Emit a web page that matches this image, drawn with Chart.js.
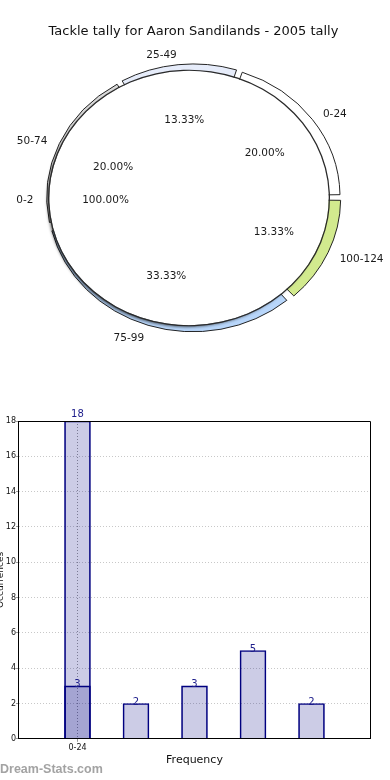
<!DOCTYPE html>
<html lang="en">
<head>
<meta charset="UTF-8">
<meta name="viewport" content="width=device-width, initial-scale=1.0">
<title>Tackle tally for Aaron Sandilands - 2005 tally</title>
<script src="https://cdn.jsdelivr.net/npm/chart.js"></script>
<style>
  body { margin: 0; background: #fff; }
  #page { position: relative; width: 390px; height: 780px; overflow: hidden; }
  .pie { position: absolute; left: 0; top: 0; }
  #barChart { position: absolute; left: -7px; top: 400px; }
  #mark { position: absolute; left: 0; top: 762px; font: bold 12.5px "Liberation Sans", Arial, sans-serif; color: #a3a3a3; }
</style>
</head>
<body>
<div id="page">
  <canvas id="wedgeChart" class="pie" width="390" height="370"></canvas>
  <canvas id="diskChart" class="pie" width="390" height="370"></canvas>
  <canvas id="barChart" width="397" height="380"></canvas>
  <div id="mark">Dream-Stats.com</div>
</div>
<script>
  const chartTitle = 'Tackle tally for Aaron Sandilands - 2005 tally';
  const rangeLabels = ['0-24', '25-49', '50-74', '75-99', '100-124'];
  const rangeCounts = [3, 2, 3, 5, 2];
  const innerLabels = ['0-2'];
  const innerCounts = [1];
  const tallBar = [18];
  const yMax = 18;
  const yStep = 2;
  const slotCount = 6;

  Chart.defaults.font.family = '"DejaVu Sans", sans-serif';

  const ySquash = 0.91;   // the old pie was drawn as a flat ellipse

  // pie goes clockwise from 3 o'clock, the original went the other way
  const wedgeLabels = rangeLabels.slice().reverse();
  const wedgeCounts = rangeCounts.slice().reverse();
  const wedgeColors = ['#ffffff', '#e6ecfa', '#dcdcdc', '#b8d6fa', '#d2ea8e'].reverse();

  const squash = {
    id: 'squash',
    beforeDatasetsDraw(chart) {
      const a = chart.chartArea, cy = (a.top + a.bottom) / 2;
      chart.ctx.save();
      chart.ctx.translate(0, cy);
      chart.ctx.scale(1, ySquash);
      chart.ctx.translate(0, -cy);
    },
    afterDatasetsDraw(chart) {
      chart.ctx.restore();
    }
  };

  const diskShadow = {
    id: 'diskShadow',
    beforeDatasetDraw(chart, args) {
      if (args.index !== 1) return;
      const ctx = chart.ctx;
      ctx.save();
      ctx.shadowColor = 'rgba(0, 0, 0, 0.55)';
      ctx.shadowBlur = 3;
      ctx.shadowOffsetX = -2;
      ctx.shadowOffsetY = 2;
    },
    afterDatasetDraw(chart, args) {
      if (args.index !== 1) return;
      chart.ctx.restore();
    }
  };

  const wedgeChart = new Chart(document.getElementById('wedgeChart'), {
    type: 'pie',
    data: {
      labels: wedgeLabels,
      datasets: [{
        data: wedgeCounts,
        backgroundColor: wedgeColors,
        borderColor: '#1a1a1a',
        borderWidth: 1,
        offset: 8,
        spacing: 4
      }]
    },
    options: {
      responsive: false,
      animation: false,
      events: [],
      radius: 142.8,
      rotation: 90,
      layout: { padding: { top: 14, bottom: 23.6, left: 0, right: 3 } },
      plugins: {
        legend: { display: false },
        tooltip: { enabled: false },
        title: { display: true, text: chartTitle, color: '#111', padding: 10, font: { size: 13, weight: 'normal' } }
      }
    },
    plugins: [squash]
  });

  // labels are placed round the wedge centre, angles come from each arc
  const pieLabels = {
    id: 'pieLabels',
    afterDraw(chart) {
      const ctx = chart.ctx;
      const centre = wedgeChart.getDatasetMeta(0).data[0];
      ctx.save();
      ctx.font = '10.5px "DejaVu Sans"';
      ctx.fillStyle = '#1a1a1a';
      ctx.textBaseline = 'middle';
      const groups = [
        { arcs: wedgeChart.getDatasetMeta(0).data, labels: wedgeLabels, values: wedgeCounts, inner: false },
        { arcs: chart.getDatasetMeta(1).data, labels: innerLabels, values: innerCounts, inner: true }
      ];
      groups.forEach(g => {
        const total = g.values.reduce((a, b) => a + b, 0);
        g.arcs.forEach((arc, i) => {
          // the whole disk puts its label on the left, like the original
          const mid = g.inner ? Math.PI : (arc.startAngle + arc.endAngle) / 2;
          const c = Math.cos(mid), s = Math.sin(mid) * ySquash;
          const x = centre.x, y = centre.y + 2;
          ctx.textAlign = c >= 0 ? 'left' : 'right';
          ctx.fillText(g.labels[i], x + c * 160, y + s * 160);
          ctx.textAlign = 'center';
          ctx.fillText((g.values[i] / total * 100).toFixed(2) + '%', x + c * 88, y + s * 88);
        });
      });
      ctx.restore();
    }
  };

  new Chart(document.getElementById('diskChart'), {
    type: 'pie',
    data: {
      labels: innerLabels,
      datasets: [
        // thin dark rim round the disk
        { data: innerCounts, backgroundColor: '#2a2a2a', borderWidth: 0, weight: 1.3, order: 0 },
        { data: innerCounts, backgroundColor: '#ffffff', borderWidth: 0, weight: 139.7, order: 1 }
      ]
    },
    options: {
      responsive: false,
      animation: false,
      events: [],
      radius: 141,
      rotation: 54,
      layout: { padding: { top: 49.6, bottom: 23.6, left: 0, right: 12 } },
      plugins: { legend: { display: false }, tooltip: { enabled: false } }
    },
    plugins: [squash, diskShadow, pieLabels]
  });

  // top and right edges of the plot box
  const plotFrame = {
    id: 'plotFrame',
    afterDraw(chart) {
      const a = chart.chartArea, ctx = chart.ctx;
      ctx.save();
      ctx.strokeStyle = '#000';
      ctx.lineWidth = 1;
      ctx.beginPath();
      ctx.moveTo(Math.round(a.left), Math.round(a.top) + 0.5);
      ctx.lineTo(Math.round(a.right) + 0.5, Math.round(a.top) + 0.5);
      ctx.lineTo(Math.round(a.right) + 0.5, Math.round(a.bottom));
      ctx.stroke();
      ctx.restore();
    }
  };

  const barValues = {
    id: 'barValues',
    afterDatasetsDraw(chart) {
      const ctx = chart.ctx;
      ctx.save();
      ctx.font = '10px "DejaVu Sans"';
      ctx.fillStyle = '#1c1c8a';
      ctx.textAlign = 'center';
      chart.data.datasets.forEach((ds, di) => {
        chart.getDatasetMeta(di).data.forEach((bar, i) => {
          const v = ds.data[i].y;
          if (di === 0) {
            ctx.textBaseline = 'bottom';
            ctx.fillText(v, bar.x, bar.y - 2);
          } else {
            ctx.textBaseline = 'middle';
            ctx.fillText(v, bar.x, bar.y - 1);
          }
        });
      });
      ctx.restore();
    }
  };

  const barStyle = {
    backgroundColor: 'rgba(0, 0, 128, 0.2)',
    borderColor: '#000080',
    borderWidth: 1,
    barThickness: 26,
    grouped: false
  };

  new Chart(document.getElementById('barChart'), {
    type: 'bar',
    data: {
      datasets: [
        Object.assign({ data: tallBar.map((v, i) => ({ x: i + 1, y: v })) }, barStyle),
        Object.assign({ data: rangeCounts.map((v, i) => ({ x: i + 1, y: v })) }, barStyle)
      ]
    },
    options: {
      responsive: false,
      animation: false,
      events: [],
      layout: { padding: { top: 21, right: 20, bottom: 13.4, left: 2 } },
      scales: {
        x: {
          type: 'linear',
          offset: false,
          min: 0,
          max: slotCount,
          ticks: {
            stepSize: 1,
            autoSkip: false,
            maxRotation: 0,
            padding: 1,
            color: '#111',
            font: { size: 8 },
            callback: v => v === 1 ? rangeLabels[0] : ''
          },
          grid: {
            offset: false,
            color: c => c.tick && c.tick.value === 1 ? '#999' : 'rgba(0,0,0,0)',
            tickLength: 3
          },
          border: { color: '#000', width: 1, dash: [1, 2] },
          title: { display: true, text: 'Frequency', color: '#111', font: { size: 11 }, padding: { top: 0, bottom: 0 } }
        },
        y: {
          min: 0,
          max: yMax,
          ticks: { stepSize: yStep, padding: 0, color: '#111', font: { size: 8 } },
          grid: { color: '#c8c8c8', tickColor: '#999', tickLength: 3 },
          border: { color: '#000', width: 1, dash: [1, 2] },
          title: { display: true, text: 'Occurrences', color: '#111', font: { size: 9 }, padding: 0 }
        }
      },
      plugins: { legend: { display: false }, tooltip: { enabled: false } }
    },
    plugins: [plotFrame, barValues]
  });
</script>
</body>
</html>
